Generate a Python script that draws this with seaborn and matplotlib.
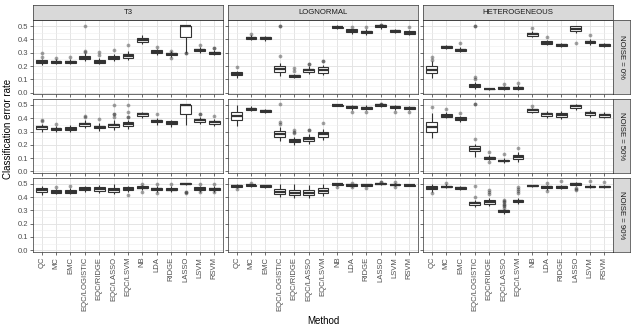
import numpy as np
import pandas as pd
import matplotlib
matplotlib.use('Agg')
import matplotlib.pyplot as plt
from matplotlib.ticker import MultipleLocator
import seaborn as sns

methods = ['QC', 'MC', 'EMC', 'EQC/LOGISTIC', 'EQC/RIDGE', 'EQC/LASSO', 'EQC/LSVM',
           'NB', 'LDA', 'RIDGE', 'LASSO', 'LSVM', 'RSVM']
dists = ['T3', 'LOGNORMAL', 'HETEROGENEOUS']
noises = ['0%', '50%', '90%']

# Box stats, one tuple per method:
# (lower whisker, q1, median, q3, upper whisker)
t3_0 = [(0.21, 0.225, 0.233, 0.242, 0.255), (0.215, 0.222, 0.228, 0.235, 0.25),
        (0.213, 0.222, 0.229, 0.24, 0.255), (0.235, 0.25, 0.262, 0.278, 0.295),
        (0.215, 0.225, 0.233, 0.245, 0.26), (0.24, 0.25, 0.262, 0.275, 0.29),
        (0.245, 0.262, 0.278, 0.29, 0.31), (0.365, 0.38, 0.395, 0.41, 0.43),
        (0.28, 0.3, 0.305, 0.318, 0.33), (0.27, 0.28, 0.288, 0.296, 0.31),
        (0.30, 0.42, 0.5, 0.5, 0.5), (0.3, 0.31, 0.317, 0.325, 0.34),
        (0.28, 0.29, 0.297, 0.305, 0.32)]
logn_0 = [(0.11, 0.13, 0.14, 0.152, 0.165), (0.395, 0.403, 0.41, 0.418, 0.43),
          (0.39, 0.402, 0.41, 0.418, 0.425), (0.125, 0.157, 0.18, 0.2, 0.22),
          (0.11, 0.115, 0.122, 0.13, 0.14), (0.14, 0.157, 0.168, 0.18, 0.2),
          (0.13, 0.148, 0.17, 0.19, 0.21), (0.48, 0.487, 0.492, 0.497, 0.505),
          (0.44, 0.455, 0.465, 0.475, 0.48), (0.43, 0.445, 0.455, 0.465, 0.475),
          (0.48, 0.49, 0.5, 0.505, 0.51), (0.45, 0.458, 0.465, 0.472, 0.478),
          (0.43, 0.44, 0.45, 0.46, 0.47)]
het_0 = [(0.11, 0.145, 0.173, 0.2, 0.235), (0.325, 0.335, 0.343, 0.35, 0.36),
         (0.305, 0.313, 0.32, 0.33, 0.34), (0.03, 0.04, 0.053, 0.065, 0.08),
         (0.022, 0.026, 0.028, 0.031, 0.035), (0.02, 0.027, 0.033, 0.04, 0.05),
         (0.018, 0.025, 0.033, 0.043, 0.055), (0.415, 0.425, 0.437, 0.448, 0.46),
         (0.355, 0.365, 0.373, 0.385, 0.395), (0.345, 0.352, 0.36, 0.368, 0.375),
         (0.445, 0.462, 0.48, 0.5, 0.5), (0.36, 0.37, 0.378, 0.387, 0.4),
         (0.345, 0.352, 0.36, 0.366, 0.375)]
t3_50 = [(0.3, 0.317, 0.333, 0.345, 0.36), (0.3, 0.31, 0.318, 0.327, 0.34),
         (0.3, 0.31, 0.322, 0.332, 0.35), (0.33, 0.343, 0.355, 0.365, 0.385),
         (0.305, 0.323, 0.335, 0.345, 0.365), (0.315, 0.333, 0.348, 0.36, 0.385),
         (0.32, 0.34, 0.355, 0.37, 0.39), (0.4, 0.42, 0.435, 0.44, 0.45),
         (0.35, 0.37, 0.38, 0.39, 0.405), (0.335, 0.355, 0.367, 0.377, 0.39),
         (0.35, 0.43, 0.5, 0.5, 0.5), (0.355, 0.375, 0.385, 0.395, 0.41),
         (0.345, 0.36, 0.37, 0.38, 0.395)]
logn_50 = [(0.34, 0.387, 0.418, 0.45, 0.5), (0.455, 0.465, 0.472, 0.478, 0.49),
           (0.44, 0.448, 0.455, 0.462, 0.47), (0.23, 0.259, 0.284, 0.305, 0.335),
           (0.2, 0.218, 0.232, 0.245, 0.26), (0.21, 0.228, 0.245, 0.26, 0.28),
           (0.235, 0.258, 0.278, 0.297, 0.32), (0.49, 0.493, 0.497, 0.5, 0.503),
           (0.465, 0.475, 0.484, 0.49, 0.5), (0.465, 0.473, 0.48, 0.488, 0.498),
           (0.485, 0.495, 0.5, 0.505, 0.512), (0.465, 0.475, 0.484, 0.49, 0.5),
           (0.46, 0.47, 0.477, 0.485, 0.495)]
het_50 = [(0.254, 0.297, 0.335, 0.373, 0.44), (0.4, 0.408, 0.418, 0.43, 0.445),
          (0.375, 0.385, 0.396, 0.408, 0.42), (0.11, 0.15, 0.17, 0.188, 0.21),
          (0.085, 0.093, 0.1, 0.11, 0.125), (0.065, 0.075, 0.081, 0.088, 0.1),
          (0.07, 0.095, 0.11, 0.125, 0.145), (0.44, 0.45, 0.46, 0.468, 0.475),
          (0.4, 0.418, 0.43, 0.442, 0.455), (0.395, 0.412, 0.425, 0.437, 0.455),
          (0.46, 0.48, 0.49, 0.5, 0.505), (0.41, 0.425, 0.437, 0.448, 0.465),
          (0.4, 0.412, 0.425, 0.435, 0.45)]
t3_90 = [(0.415, 0.435, 0.451, 0.465, 0.485), (0.42, 0.43, 0.44, 0.45, 0.46),
         (0.42, 0.43, 0.44, 0.452, 0.465), (0.44, 0.455, 0.463, 0.473, 0.485),
         (0.43, 0.447, 0.458, 0.473, 0.49), (0.42, 0.44, 0.451, 0.467, 0.495),
         (0.44, 0.455, 0.463, 0.473, 0.485), (0.45, 0.465, 0.47, 0.48, 0.49),
         (0.44, 0.452, 0.458, 0.467, 0.48), (0.44, 0.45, 0.456, 0.465, 0.48),
         (0.49, 0.497, 0.5, 0.502, 0.505), (0.44, 0.455, 0.463, 0.473, 0.485),
         (0.44, 0.45, 0.458, 0.467, 0.48)]
logn_90 = [(0.47, 0.478, 0.485, 0.492, 0.5), (0.475, 0.483, 0.488, 0.493, 0.5),
           (0.47, 0.477, 0.482, 0.487, 0.493), (0.4, 0.422, 0.439, 0.459, 0.5),
           (0.39, 0.415, 0.432, 0.45, 0.495), (0.39, 0.415, 0.432, 0.45, 0.49),
           (0.405, 0.43, 0.446, 0.47, 0.5), (0.485, 0.49, 0.495, 0.5, 0.505),
           (0.478, 0.485, 0.49, 0.495, 0.5), (0.48, 0.485, 0.49, 0.495, 0.5),
           (0.49, 0.495, 0.5, 0.503, 0.507), (0.48, 0.487, 0.492, 0.497, 0.503),
           (0.48, 0.486, 0.49, 0.494, 0.5)]
het_90 = [(0.44, 0.46, 0.47, 0.48, 0.5), (0.465, 0.473, 0.478, 0.485, 0.495),
          (0.455, 0.462, 0.467, 0.473, 0.48), (0.325, 0.343, 0.355, 0.365, 0.38),
          (0.33, 0.348, 0.362, 0.375, 0.39), (0.275, 0.285, 0.293, 0.3, 0.31),
          (0.345, 0.36, 0.37, 0.38, 0.395), (0.475, 0.48, 0.483, 0.487, 0.49),
          (0.455, 0.465, 0.473, 0.48, 0.49), (0.46, 0.468, 0.476, 0.482, 0.49),
          (0.48, 0.49, 0.5, 0.505, 0.51), (0.465, 0.472, 0.478, 0.485, 0.495),
          (0.465, 0.472, 0.476, 0.481, 0.49)]

# Outlier points per method
t3_0_out = [[0.27, 0.295], [0.26], [0.268], [0.305, 0.31, 0.5], [0.28, 0.305], [0.318],
            [0.36], [], [0.345], [0.26, 0.315], [0.3, 0.3], [0.355], [0.335, 0.335]]
logn_0_out = [[0.19], [0.44], [], [0.275, 0.5, 0.5], [0.165, 0.185], [0.215, 0.215],
              [0.24, 0.24], [], [0.49], [0.49], [0.51, 0.51], [], [0.49]]
het_0_out = [[0.245, 0.27], [], [0.375], [0.1, 0.115, 0.5, 0.5], [], [0.065], [0.075],
             [0.485], [0.42], [], [0.37], [0.435], []]
t3_50_out = [[0.38, 0.385], [0.36], [], [0.41, 0.415], [0.395], [0.41, 0.43, 0.43, 0.5],
             [0.41, 0.41, 0.445, 0.5], [], [0.43], [], [], [0.435, 0.435], [0.42]]
logn_50_out = [[], [], [], [0.36, 0.375, 0.505], [0.29, 0.3, 0.31], [0.315, 0.315],
               [0.365], [], [0.45], [0.45], [0.51, 0.51], [0.45], [0.45]]
het_50_out = [[0.487], [0.47], [0.44], [0.246, 0.505, 0.505], [0.07, 0.145], [0.13],
              [0.18], [0.495], [], [], [], [], []]
t3_90_out = [[], [0.478], [0.483], [], [], [], [0.415], [0.44, 0.5], [0.427, 0.5],
             [0.495], [0.427, 0.44, 0.44], [0.44, 0.5], [0.44, 0.5]]
logn_90_out = [[0.463], [0.507], [], [], [], [], [], [0.475], [0.475, 0.507], [0.47],
               [0.51, 0.51], [0.475, 0.512], []]
het_90_out = [[0.427], [0.507], [], [0.402, 0.48], [0.42, 0.44, 0.455],
              [0.32, 0.33, 0.34, 0.35, 0.36, 0.37, 0.38], [0.43, 0.445, 0.46, 0.475],
              [], [0.446, 0.507], [0.52], [0.45, 0.46, 0.47], [0.52], [0.512]]

boxes = {
    ('T3', '0%'): (t3_0, t3_0_out), ('LOGNORMAL', '0%'): (logn_0, logn_0_out),
    ('HETEROGENEOUS', '0%'): (het_0, het_0_out),
    ('T3', '50%'): (t3_50, t3_50_out), ('LOGNORMAL', '50%'): (logn_50, logn_50_out),
    ('HETEROGENEOUS', '50%'): (het_50, het_50_out),
    ('T3', '90%'): (t3_90, t3_90_out), ('LOGNORMAL', '90%'): (logn_90, logn_90_out),
    ('HETEROGENEOUS', '90%'): (het_90, het_90_out),
}

box_rows, out_rows = [], []
for (dist, noise), (stats, outs) in boxes.items():
    for m, s, o in zip(methods, stats, outs):
        for v in s:
            box_rows.append((dist, noise, m, v))
        for v in o:
            out_rows.append((dist, noise, m, v))
box_df = pd.DataFrame(box_rows, columns=['dist', 'noise', 'method', 'value'])
out_df = pd.DataFrame(out_rows, columns=['dist', 'noise', 'method', 'value'])

sns.set_theme(style='whitegrid')
plt.rcParams['font.family'] = ['Liberation Sans', 'DejaVu Sans']

W, H = 636, 330
fig, axes = plt.subplots(3, 3, figsize=(W / 100, H / 100), dpi=100, sharex=True, sharey=True)
fig.subplots_adjust(left=33 / W, right=613 / W, top=1 - 20 / H, bottom=1 - 252 / H,
                    wspace=0.027, hspace=0.06)

dark = '#333333'
for i, noise in enumerate(noises):
    for j, dist in enumerate(dists):
        ax = axes[i, j]
        sub = box_df[(box_df['dist'] == dist) & (box_df['noise'] == noise)]
        sns.boxplot(data=sub, x='method', y='value', order=methods, ax=ax, whis=np.inf,
                    color='white', linecolor=dark, linewidth=0.8, width=0.75,
                    showcaps=False, medianprops={'linewidth': 1.6})
        osub = out_df[(out_df['dist'] == dist) & (out_df['noise'] == noise)]
        sns.stripplot(data=osub, x='method', y='value', order=methods, ax=ax,
                      jitter=False, color=dark, alpha=0.45, size=2.7, linewidth=0)
        ax.set_xlim(-0.6, 12.6)
        ax.set_ylim(-0.013, 0.546)
        ax.set_yticks(np.arange(0, 0.51, 0.1))
        ax.yaxis.set_minor_locator(MultipleLocator(0.05))
        ax.set_axisbelow(True)
        ax.grid(which='major', color='#E3E3E3', linewidth=0.65)
        ax.grid(which='minor', axis='y', color='#EEEEEE', linewidth=0.4)
        ax.set_facecolor('white')
        for sp in ax.spines.values():
            sp.set_color(dark)
            sp.set_linewidth(0.5)
        ax.tick_params(which='major', length=2, width=0.5, color=dark, labelsize=5.5,
                       labelcolor='#4D4D4D', pad=1.5, left=True, bottom=True)
        ax.tick_params(which='minor', length=0)
        ax.set_xlabel('')
        ax.set_ylabel('')
        ax.set_yticklabels(['0.0', '0.1', '0.2', '0.3', '0.4', '0.5'])
        if i == 2:
            ax.set_xticks(range(len(methods)))
            ax.set_xticklabels(methods, rotation=90)

# facet strips
strip_h = 15 / H
strip_w = 17 / W
for j, dist in enumerate(dists):
    pos = axes[0, j].get_position()
    sax = fig.add_axes([pos.x0, pos.y1, pos.width, strip_h])
    sax.set_facecolor('#D9D9D9')
    sax.set_xticks([])
    sax.set_yticks([])
    for sp in sax.spines.values():
        sp.set_color(dark)
        sp.set_linewidth(0.5)
    sax.text(0.5, 0.5, dist, ha='center', va='center', fontsize=5.6, color='#1A1A1A',
             transform=sax.transAxes)
for i, noise in enumerate(noises):
    pos = axes[i, 2].get_position()
    sax = fig.add_axes([pos.x1, pos.y0, strip_w, pos.height])
    sax.set_facecolor('#D9D9D9')
    sax.set_xticks([])
    sax.set_yticks([])
    for sp in sax.spines.values():
        sp.set_color(dark)
        sp.set_linewidth(0.5)
    sax.text(0.5, 0.5, f'NOISE = {noise}', ha='center', va='center', fontsize=5.6,
             color='#1A1A1A', rotation=-90, transform=sax.transAxes)

fig.text(8 / W, 1 - 128.5 / H, 'Classification error rate',
         rotation=90, ha='center', va='center', fontsize=7, color='black')
fig.text(0.5 * (33 + 613) / W, 1 - 321 / H, 'Method', ha='center', va='center',
         fontsize=7, color='black')

fig.savefig('out.png', dpi=100)
